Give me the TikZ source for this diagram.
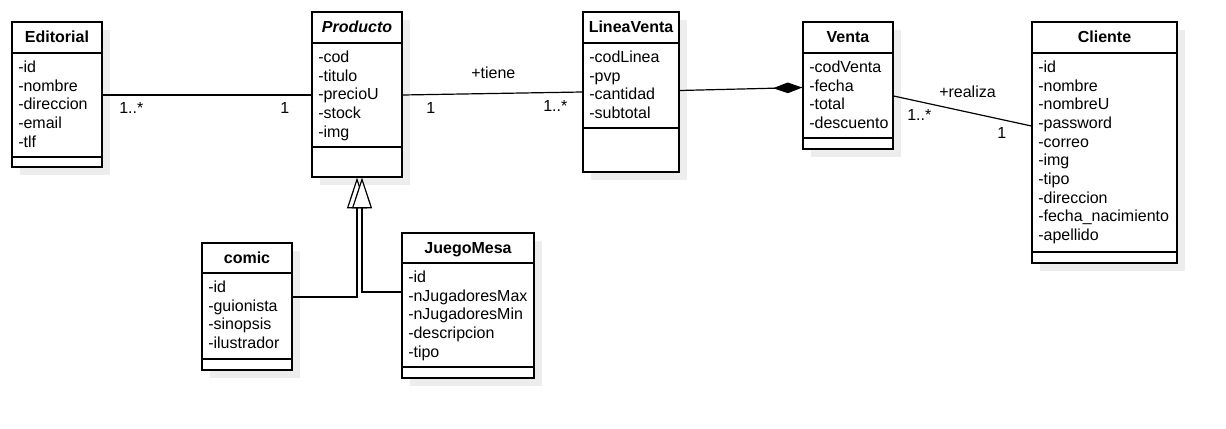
\documentclass[tikz,border=0pt]{standalone}
\usepackage{fontspec}
\setmainfont{Liberation Sans}
\usetikzlibrary{fit,arrows.meta}
\tikzset{
  cbox/.style={draw=black, fill=white, inner sep=0pt, line width=0.9pt},
  shad/.style={fill=black!7},
  attr/.style={anchor=base west, inner sep=0pt, font=\fontsize{12pt}{14pt}\selectfont},
  ttl/.style={anchor=base, inner sep=0pt, font=\fontsize{12pt}{14pt}\selectfont\bfseries},
  lbl/.style={anchor=base west, inner sep=0pt, font=\fontsize{12pt}{14pt}\selectfont},
  conn/.style={draw=black, line width=0.9pt},
  gen/.style={conn, -{Triangle[fill=white,length=23pt,width=15pt,line width=0.9pt]}},
  comp/.style={conn, -{Diamond[length=22pt,width=8pt]}}
}
% #1 name #2 left #3 top #4 right #5 header line #6 divider #7 bottom #8 title #9 attributes
\newcommand\umlcls[9]{%
  \fill[shad] ({#2+8},{#3+8}) rectangle ({#4+8},{#7+8});
  \node[cbox, fit={(#2,#3) (#4,#7)}] (#1) {};
  \draw[conn] (#1.west |- 0,#5) -- (#1.east |- 0,#5);
  \draw[conn] (#1.west |- 0,#6) -- (#1.east |- 0,#6);
  \node[ttl] (#1-t) at ({(#2+#4)/2},{(#3+#5)/2+5.5}) {#8};
  \foreach \t [count=\i] in {#9} {\node[attr] (#1-\i) at ({#2+6},{#5+19.5+(\i-1)*18.67}) {\t};}
}
\begin{document}
\begin{tikzpicture}[x=0.75pt,y=-0.75pt]
\useasboundingbox[fill=white] (0,0) rectangle (1226,428);

\umlcls{edit}{12}{22}{102}{53}{157}{167}{Editorial}{-id,-nombre,-direccion,-email,-tlf}
\umlcls{prod}{312}{12}{402}{43}{147}{177}{\textit{Producto}}{-cod,-titulo,-precioU,-stock,-img}
\umlcls{lv}{583}{12}{679}{43}{128}{172}{LineaVenta}{-codLinea,-pvp,-cantidad,-subtotal}
\umlcls{venta}{803}{22}{893}{53}{138}{149}{Venta}{-codVenta,-fecha,-total,-descuento}
\umlcls{cli}{1032}{22}{1177}{53}{252}{263}{Cliente}{-id,-nombre,-nombreU,-password,-correo,-img,-tipo,-direccion,-fecha\_nacimiento,-apellido}
\umlcls{comic}{202}{243}{292}{273}{359}{370}{comic}{-id,-guionista,-sinopsis,-ilustrador}
\umlcls{jm}{402}{233}{534}{263}{367}{378}{JuegoMesa}{-id,-nJugadoresMax,-nJugadoresMin,-descripcion,-tipo}

% Editorial -- Producto
\draw[conn] (edit.east |- 0,95) -- (prod.west |- 0,95);
\node[lbl] (l1) at (119,113) {1..*};
\node[lbl] (l2) at (280,113) {1};

% Producto -- LineaVenta
\draw[conn] (prod.east |- 0,95) -- (lv.west |- 0,92);
\node[lbl] (l3) at (471,79) {+tiene};
\node[lbl] (l4) at (426,113) {1};
\node[lbl] (l5) at (543,111) {1..*};

% LineaVenta -- Venta (composition)
\draw[comp] (lv.east |- 0,90.5) -- (venta.west |- 0,87.5);

% Venta -- Cliente
\draw[conn] (venta.east |- 0,96) -- (cli.west |- 0,126);
\node[lbl] (l6) at (939,97) {+realiza};
\node[lbl] (l7) at (907,120) {1..*};
\node[lbl] (l8) at (997,138) {1};

% Generalizations
\draw[gen] (comic.east |- 0,297) -| (prod.south -| 357,0);
\draw[gen] (jm.west |- 0,292) -| (prod.south -| 362,0);
\end{tikzpicture}
\end{document}
